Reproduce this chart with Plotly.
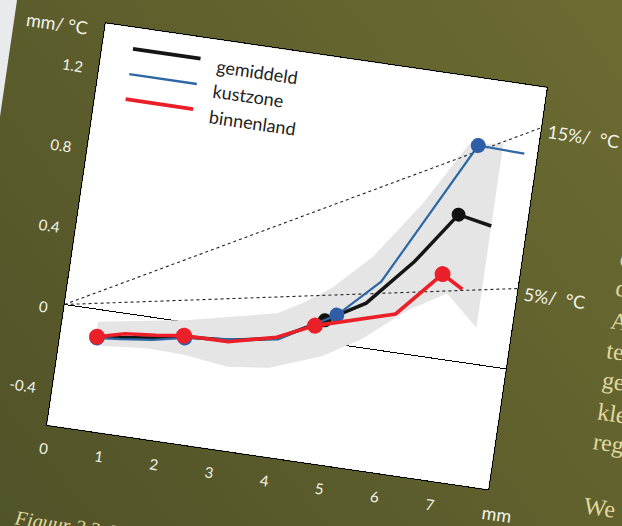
import plotly.graph_objects as go

# Change in precipitation per degree warming (mm/°C) against precipitation amount (mm)
gem_x = [0.66, 1.10, 1.66, 2.21, 3.00, 3.86, 4.66, 5.35, 6.10, 6.76, 7.37]
gem_y = [-0.137, -0.120, -0.100, -0.072, -0.058, -0.014, 0.108, 0.221, 0.458, 0.718, 0.686]
gem_marks = [0, 3, 6, 9]

kust_x = [0.66, 1.07, 1.65, 2.22, 2.99, 3.88, 4.86, 5.56, 6.93, 7.77]
kust_y = [-0.140, -0.130, -0.110, -0.078, -0.053, -0.018, 0.142, 0.336, 1.069, 1.062]
kust_marks = [0, 3, 6, 8]

binnen_x = [0.66, 1.15, 1.70, 2.20, 3.00, 3.85, 4.50, 5.90, 6.63, 7.02]
binnen_y = [-0.134, -0.100, -0.085, -0.067, -0.065, -0.009, 0.075, 0.189, 0.417, 0.357]
binnen_marks = [0, 3, 6, 8]

# spread over the stations (grey band)
band_x = [0.64, 1.10, 1.60, 2.25, 3.05, 3.80, 4.20, 4.70, 5.35, 6.10, 6.76, 7.37]
band_hi = [-0.060, -0.040, -0.015, 0.013, 0.062, 0.108, 0.173, 0.270, 0.452, 0.748, 1.066, 1.098]
band_lo = [-0.180, -0.166, -0.155, -0.160, -0.188, -0.163, -0.120, -0.070, 0.040, 0.215, 0.326, 0.180]

# reference scaling lines: 5 % and 15 % per degree
ref_x = [0, 8]
ref_5 = [0, 0.4]
ref_15 = [0, 1.2]

x_ticks = [0, 1, 2, 3, 4, 5, 6, 7]
y_ticks = [-0.4, 0, 0.4, 0.8, 1.2]
y_labels = ["-0.4", "0", "0.4", "0.8", "1.2"]

series = [
    ("gemiddeld", gem_x, gem_y, gem_marks, "#151515", 3.5, "#111111", 14),
    ("kustzone", kust_x, kust_y, kust_marks, "#2d68a5", 2.2, "#2f5ea8", 15),
    ("binnenland", binnen_x, binnen_y, binnen_marks, "#ea1f28", 3.6, "#ea1f28", 16),
]

fig = go.Figure()

fig.add_trace(go.Scatter(
    x=band_x + band_x[::-1], y=band_hi + band_lo[::-1],
    fill="toself", fillcolor="#e5e5e5", mode="lines",
    line=dict(width=0), hoverinfo="skip", showlegend=False))

for ry in (ref_5, ref_15):
    fig.add_trace(go.Scatter(
        x=ref_x, y=ry, mode="lines",
        line=dict(color="#222222", width=1.1, dash="dot"),
        hoverinfo="skip", showlegend=False))

for name, xs, ys, marks, lc, lw, mc, ms in series:
    fig.add_trace(go.Scatter(
        x=xs, y=ys, mode="lines", name=name,
        line=dict(color=lc, width=lw), showlegend=False))
    fig.add_trace(go.Scatter(
        x=[xs[i] for i in marks], y=[ys[i] for i in marks], mode="markers",
        marker=dict(color=mc, size=ms), showlegend=False, hoverinfo="skip"))

tick_font = dict(family="Lato", size=15, color="#f3f3ea")

fig.update_xaxes(
    range=[0, 8], tickvals=x_ticks, ticks="", showgrid=False, zeroline=False,
    showline=True, mirror=True, linecolor="#000000", linewidth=1.3,
    tickfont=tick_font, ticklabelstandoff=10)
fig.update_yaxes(
    range=[-0.6, 1.4], tickvals=y_ticks, ticks="", showticklabels=False,
    showgrid=False, zeroline=True, zerolinecolor="#000000", zerolinewidth=1.3,
    showline=True, mirror=True, linecolor="#000000", linewidth=1.3)

shapes = []
annotations = []

# value labels of the vertical axis, set slightly below their tick
for val, lab in zip(y_ticks, y_labels):
    annotations.append(dict(text=lab, xref="paper", yref="y", x=0, y=val,
                            xshift=-14, yshift=-5, xanchor="right", yanchor="middle",
                            showarrow=False, font=tick_font))

# hand-drawn legend in the upper left corner of the plot
legend_rows = [("gemiddeld", "#151515", 3.8, 0.9475, 0.937),
               ("kustzone", "#2d68a5", 2.4, 0.8845, 0.874),
               ("binnenland", "#ea1f28", 3.8, 0.822, 0.811)]
for label, col, w, ly, ty in legend_rows:
    shapes.append(dict(type="line", xref="x domain", yref="y domain",
                       x0=0.069, x1=0.222, y0=ly, y1=ly,
                       line=dict(color=col, width=w)))
    annotations.append(dict(text=label, xref="x domain", yref="y domain",
                            x=0.256, y=ty, xanchor="left", yanchor="middle",
                            showarrow=False,
                            font=dict(family="Lato", size=18, color="#222222")))

label_font = dict(family="Lato", size=18, color="#f3f3ea")
annotations += [
    dict(text="mm/ °C", xref="paper", yref="y", x=-0.034, y=1.365,
         xanchor="right", yanchor="middle", showarrow=False, font=label_font),
    dict(text="mm", xref="x domain", yref="paper", x=1.026, y=0, yshift=-23,
         xanchor="center", yanchor="middle", showarrow=False, font=label_font),
    dict(text="15%/  °C", xref="paper", yref="y", x=1.0, xshift=5, y=1.19,
         xanchor="left", yanchor="middle", showarrow=False, font=label_font),
    dict(text="5%/  °C", xref="paper", yref="y", x=1.0, xshift=5, y=0.38,
         xanchor="left", yanchor="middle", showarrow=False, font=label_font),
]

# running text of the page next to and below the figure
page_font = dict(family="Liberation Serif", size=24, color="#e2d99f")
body_lines = [("c", 0.611), ("d", 0.537), ("A", 0.455), ("te", 0.381),
              ("ge", 0.308), ("kle", 0.229), ("reg", 0.154), ("We", -0.006)]
for txt, yy in body_lines:
    annotations.append(dict(text=txt, xref="paper", yref="paper", x=1.212, y=yy,
                            xanchor="left", yanchor="middle", showarrow=False,
                            font=page_font))
annotations.append(dict(text="<i>Figuur 2.3  V</i>", xref="paper", yref="paper",
                        x=-0.048, y=-0.205, xanchor="left", yanchor="top",
                        showarrow=False,
                        font=dict(family="Liberation Serif", size=20, color="#e2d99f")))

fig.update_layout(
    width=707, height=676,
    margin=dict(l=91, r=170, t=130, b=140),
    paper_bgcolor="rgba(0,0,0,0)", plot_bgcolor="#ffffff",
    shapes=shapes, annotations=annotations, showlegend=False)

page_style = """
var gd = document.getElementById('{plot_id}');
document.documentElement.style.overflow = 'hidden';
document.body.style.margin = '0';
document.body.style.background = '#e9eaeb';
gd.style.position = 'absolute';
gd.style.left = '-44px';
gd.style.top = '-111px';
gd.style.transformOrigin = '91px 536px';
gd.style.transform = 'rotate(8.3deg)';
gd.style.background = 'linear-gradient(to top right, #4f5128 0%, #5d5e2c 45%, #6f6e33 100%)';
"""

fig.write_html("out.html", config={"displayModeBar": False}, post_script=page_style)
